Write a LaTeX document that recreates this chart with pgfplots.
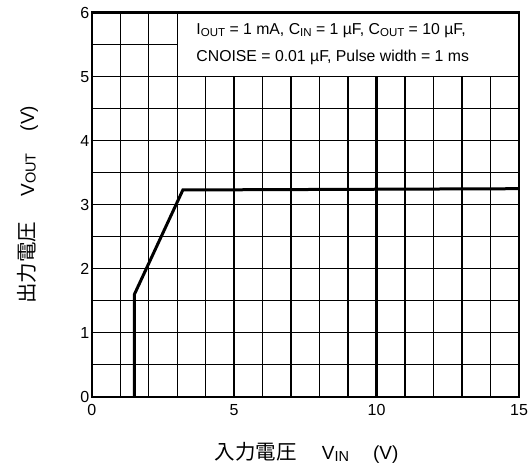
\documentclass[border=0pt]{standalone}
\usepackage{fontspec}
\setmainfont{Liberation Sans}
\newfontfamily\cjk{Noto Sans CJK JP}
\usepackage{pgfplots}
\pgfplotsset{compat=1.18}
\newcommand{\sub}[1]{\raisebox{-0.1em}{\fontsize{11.5}{12}\selectfont #1}}
\newcommand{\lsub}[1]{\raisebox{-0.08em}{\fontsize{14.5}{15}\selectfont #1}}
\begin{document}
\begin{tikzpicture}
\path[use as bounding box] (-91.7pt,-71.3pt) rectangle (437.3pt,396.7pt);
\begin{axis}[
  at={(0,0)}, anchor=south west,
  scale only axis, width=427.3pt, height=384pt,
  xmin=0, xmax=15, ymin=0, ymax=6,
  xtick={0,5,10,15}, ytick={0,1,2,3,4,5,6},
  minor xtick={1,2,3,4,6,7,8,9,11,12,13,14},
  minor ytick={0.5,1.5,2.5,3.5,4.5,5.5},
  grid=both,
  major x grid style={black,line width=2.2pt},
  minor x grid style={black,line width=1.3pt},
  major y grid style={black,line width=1.4pt},
  minor y grid style={black,line width=1.4pt},
  major tick length=0pt, minor tick length=0pt,
  axis line style={black,line width=2.4pt},
  tick label style={font=\fontsize{16}{18}\selectfont},
  /pgf/number format/assume math mode=true,
  xticklabel style={yshift=-4pt},
  yticklabel style={xshift=1pt},
  xlabel={{\fontsize{20.5}{22}\selectfont\cjk 入力電圧}\hspace{25pt}{\fontsize{19}{20}\selectfont V\lsub{IN}\hspace{24pt}(V)}},
  ylabel={{\fontsize{20.5}{22}\selectfont\cjk 出力電圧}\hspace{25pt}{\fontsize{19}{20}\selectfont V\lsub{OUT}\hspace{22pt}(V)}},
  x label style={at={(axis description cs:0.503,-0.147)},anchor=center},
  y label style={at={(axis description cs:-0.15,0.5)},anchor=center},
  clip=false,
]
\addplot[black, line width=3pt, line join=miter] coordinates {
  (1.5,0) (1.5,1.6) (3.2,3.23) (15,3.25)
};
\fill[white] (axis cs:3,5) rectangle (axis cs:15,6);
\draw[black, line width=1.3pt] (axis cs:3,6) -- (axis cs:3,5) -- (axis cs:15,5);
\draw[black, line width=2.4pt] (axis cs:3,6) -- (axis cs:15,6) -- (axis cs:15,5);
\node[anchor=base west, inner sep=0pt, font=\fontsize{15.8}{17}\selectfont] at (axis cs:3.67,5.652)
  {I\sub{OUT} = 1 mA, C\sub{IN} = 1 \textmu F, C\sub{OUT} = 10 \textmu F,};
\node[anchor=base west, inner sep=0pt, font=\fontsize{15.8}{17}\selectfont] at (axis cs:3.67,5.23)
  {CNOISE = 0.01 \textmu F, Pulse width = 1 ms};
\end{axis}
\end{tikzpicture}
\end{document}
